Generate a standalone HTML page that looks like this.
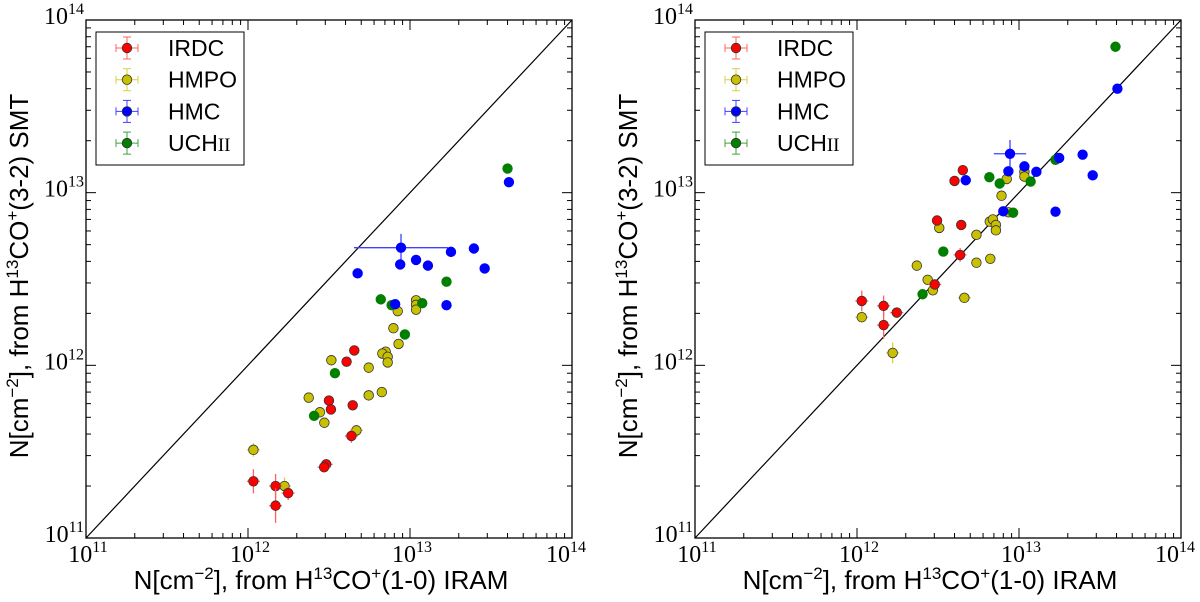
<!DOCTYPE html>
<html><head><meta charset="utf-8"><style>
body{margin:0;background:#fff;width:1200px;height:597px;overflow:hidden}
svg{font-family:"Liberation Sans",sans-serif}
</style></head><body>
<svg id="c" width="1200" height="597" xmlns="http://www.w3.org/2000/svg"></svg>
<script>
// ---- Left panel data (values in cm^-2) ----
const L_irdc_x=[4.53e12,4.06e12,3.16e12,3.25e12,4.43e12,4.35e12,3.04e12,2.95e12,1.08e12,1.48e12,1.77e12,1.48e12];
const L_irdc_y=[1.22e12,1.05e12,6.25e11,5.55e11,5.87e11,3.9e11,2.67e11,2.57e11,2.13e11,2.0e11,1.82e11,1.54e11];
const L_irdc_e=[0,0,0,0,0,0.04,0.03,0.03,0.07,0.07,0.04,0.1];
const L_hmpo_x=[1.09e13,1.09e13,1.09e13,8.4e12,7.9e12,8.5e12,7.08e12,6.75e12,7.28e12,7.28e12,3.27e12,5.56e12,5.56e12,6.7e12,2.37e12,2.78e12,2.96e12,4.67e12,1.08e12,1.68e12];
const L_hmpo_y=[2.38e12,2.24e12,2.1e12,2.06e12,1.64e12,1.33e12,1.2e12,1.17e12,1.12e12,1.04e12,1.07e12,9.7e11,6.7e11,7.0e11,6.5e11,5.35e11,4.65e11,4.2e11,3.24e11,2.0e11];
const L_hmpo_e=[0,0,0,0,0,0,0,0,0,0,0,0,0,0,0,0,0,0.03,0.04,0.05];
const L_hmc_x=[4.08e13,8.8e12,1.79e13,2.48e13,2.89e13,8.7e12,1.09e13,1.29e13,4.75e12,8.1e12,1.68e13];
const L_hmc_y=[1.15e13,4.8e12,4.54e12,4.75e12,3.64e12,3.84e12,4.08e12,3.78e12,3.41e12,2.26e12,2.23e12];
const L_hmc_e=[0,0.08,0,0,0,0,0,0,0,0,0];
const L_uch_x=[4.0e13,1.68e13,6.6e12,7.7e12,1.19e13,9.3e12,3.44e12,2.56e12];
const L_uch_y=[1.38e13,3.05e12,2.41e12,2.23e12,2.29e12,1.51e12,9.0e11,5.1e11];
// ---- Right panel data ----
const R_irdc_x=[4.5e12,4.0e12,3.12e12,4.4e12,4.33e12,3.02e12,1.07e12,1.46e12,1.76e12,1.46e12];
const R_irdc_y=[1.35e13,1.17e13,6.9e12,6.5e12,4.36e12,2.94e12,2.36e12,2.21e12,2.02e12,1.71e12];
const R_irdc_e=[0,0,0,0,0.04,0.03,0.06,0.06,0.03,0.08];
const R_hmpo_x=[3.22e12,8.4e12,1.08e13,1.08e13,7.8e12,8.6e12,6.6e12,6.9e12,7.2e12,7.2e12,5.46e12,2.34e12,2.73e12,2.94e12,5.46e12,6.65e12,4.6e12,1.07e12,1.66e12];
const R_hmpo_y=[6.25e12,1.2e13,1.32e13,1.24e13,9.6e12,7.7e12,6.8e12,7.0e12,6.5e12,6.05e12,5.7e12,3.78e12,3.13e12,2.72e12,3.93e12,4.14e12,2.46e12,1.9e12,1.18e12];
const R_hmpo_e=[0,0,0,0,0,0,0,0,0,0,0,0,0,0,0,0,0.03,0.03,0.06];
const R_hmc_x=[4.05e13,8.8e12,1.77e13,2.47e13,2.85e13,1.08e13,1.28e13,8.6e12,4.69e12,8.0e12,1.68e13];
const R_hmc_y=[4.0e13,1.68e13,1.59e13,1.66e13,1.26e13,1.42e13,1.32e13,1.33e13,1.18e13,7.8e12,7.76e12];
const R_hmc_e=[0,0.08,0,0,0,0,0,0,0,0,0];
const R_uch_x=[3.94e13,1.68e13,6.56e12,7.6e12,1.18e13,9.2e12,3.41e12,2.54e12];
const R_uch_y=[7.0e13,1.55e13,1.23e13,1.13e13,1.16e13,7.66e12,4.56e12,2.58e12];
const xTicks=[11,12,13,14];
const yTicks=[11,12,13,14];
const legendLabels=["IRDC","HMPO","HMC","UCH"];

const NS="http://www.w3.org/2000/svg";
const svg=document.getElementById('c');
function mk(tag,attrs,parent){const e=document.createElementNS(NS,tag);for(const k in attrs)e.setAttribute(k,attrs[k]);(parent||svg).appendChild(e);return e;}
const COL={irdc:"#ff0000",hmpo:"#c8c000",hmc:"#0000ff",uch:"#007f00"};
const ECOL={irdc:"#ff6060",hmpo:"#d8d040",hmc:"#4040ff",uch:"#40a040"};
const SERIF="Liberation Serif, serif";

function panel(px0,name,data,hmcXerr){
  const X0=px0,X1=px0+486,Y0=538,Y1=20;
  const sx=v=>X0+(Math.log10(v)-11)/3*(X1-X0);
  const sy=v=>Y0-(Math.log10(v)-11)/3*(Y0-Y1);
  const g=mk('g',{});
  
  
  for(let d=11;d<14;d++){for(let m=1;m<10;m++){const v=m*Math.pow(10,d);const len=m===1?10:5;
    const x=sx(v),y=sy(v);
    if(m!==1||d>11){
    mk('line',{x1:x,y1:Y0,x2:x,y2:Y0-len,stroke:'#000'},g);
    mk('line',{x1:x,y1:Y1,x2:x,y2:Y1+len,stroke:'#000'},g);
    mk('line',{x1:X0,y1:y,x2:X0+len,y2:y,stroke:'#000'},g);
    mk('line',{x1:X1,y1:y,x2:X1-len,y2:y,stroke:'#000'},g);}
  }}
  const dl=mk('line',{x1:sx(1e11),y1:sy(1e11),x2:sx(1e14),y2:sy(1e14),stroke:'#000','stroke-width':1.2},g);
  
  
  xTicks.forEach(t=>{const tx=mk('text',{x:sx(Math.pow(10,t))+(t===14?-6:2),y:Y0+24,'text-anchor':'middle','font-family':SERIF,'font-size':24},g);
    tx.innerHTML='10<tspan dy="-10" font-size="16">'+t+'</tspan>';
    
    });
  yTicks.forEach(t=>{const tx=mk('text',{x:X0-2,y:sy(Math.pow(10,t))+4,'text-anchor':'end','font-family':SERIF,'font-size':24},g);
    tx.innerHTML='10<tspan dy="-10" font-size="16">'+t+'</tspan>';
    
    });
  data.forEach(s=>{
    const sg=mk('g',{},g);
    
    
    s.x.forEach((xv,i)=>{
      const e=(s.e&&s.e[i])||0;
      const cx=sx(xv),cy=sy(s.y[i]);
      if(e>0){
        const xe=s.k==='hmc'?hmcXerr:0.04;
        mk('line',{x1:cx,y1:sy(s.y[i]*Math.pow(10,e)),x2:cx,y2:sy(s.y[i]/Math.pow(10,e)),stroke:ECOL[s.k],'stroke-width':1.3},sg);
        mk('line',{x1:sx(xv/Math.pow(10,xe)),y1:cy,x2:sx(xv*Math.pow(10,xe)),y2:cy,stroke:ECOL[s.k],'stroke-width':1.3},sg);
      }
      const c=mk('circle',{cx:cx,cy:cy,r:4.8,fill:COL[s.k],stroke:s.k==='hmpo'||s.k==='irdc'?'#333':COL[s.k],'stroke-width':0.8},sg);
      
      
    });
  });
  mk('rect',{x:X0,y:Y1,width:X1-X0,height:Y0-Y1,fill:'none',stroke:'#000','stroke-width':1.3},g);
  const lg=mk('g',{},g);
  
  
  mk('rect',{x:X0+10,y:32,width:148,height:133,fill:'#fff',stroke:'#000','stroke-width':1},lg);
  ['irdc','hmpo','hmc','uch'].forEach((k,i)=>{
    const y=48+i*31.7,x=X0+41;
    const eg=mk('g',{},lg);
    
    
    mk('line',{x1:x-11,y1:y,x2:x+11,y2:y,stroke:ECOL[k]},eg);
    mk('line',{x1:x,y1:y-11,x2:x,y2:y+11,stroke:ECOL[k]},eg);
    mk('line',{x1:x-11,y1:y-4,x2:x-11,y2:y+4,stroke:ECOL[k]},eg);
    mk('line',{x1:x+11,y1:y-4,x2:x+11,y2:y+4,stroke:ECOL[k]},eg);
    mk('line',{x1:x-4,y1:y-11,x2:x+4,y2:y-11,stroke:ECOL[k]},eg);
    mk('line',{x1:x-4,y1:y+11,x2:x+4,y2:y+11,stroke:ECOL[k]},eg);
    mk('circle',{cx:x,cy:y,r:4.8,fill:COL[k],stroke:'#333','stroke-width':0.8},eg);
    const t=mk('text',{x:X0+82,y:y+8,'font-size':23},eg);
    t.textContent=legendLabels[i];
    if(k==='uch'){const ts=mk('tspan',{'font-family':SERIF,'font-size':19},t);ts.textContent='II';}
  });
  const xt=mk('text',{x:(X0+X1)/2-8,y:589,'text-anchor':'middle','font-size':26},g);
  xt.innerHTML='N[cm<tspan dy="-10" font-size="17">−2</tspan><tspan dy="10">], from H</tspan><tspan dy="-10" font-size="17">13</tspan><tspan dy="10">CO</tspan><tspan dy="-10" font-size="17">+</tspan><tspan dy="10">(1-0) IRAM</tspan>';
  
  
  const yt=mk('text',{x:0,y:0,'text-anchor':'middle','font-size':26,transform:'translate('+(X0-58)+',276) rotate(-90)'},g);
  yt.innerHTML='N[cm<tspan dy="-10" font-size="17">−2</tspan><tspan dy="10">], from H</tspan><tspan dy="-10" font-size="17">13</tspan><tspan dy="10">CO</tspan><tspan dy="-10" font-size="17">+</tspan><tspan dy="10">(3-2) SMT</tspan>';
  
  
}
panel(86,'left-panel',[
  {k:'hmpo',x:L_hmpo_x,y:L_hmpo_y,e:L_hmpo_e},
  {k:'uch',x:L_uch_x,y:L_uch_y},
  {k:'hmc',x:L_hmc_x,y:L_hmc_y,e:L_hmc_e},
  {k:'irdc',x:L_irdc_x,y:L_irdc_y,e:L_irdc_e}],0.29);
panel(695,'right-panel',[
  {k:'hmpo',x:R_hmpo_x,y:R_hmpo_y,e:R_hmpo_e},
  {k:'uch',x:R_uch_x,y:R_uch_y},
  {k:'hmc',x:R_hmc_x,y:R_hmc_y,e:R_hmc_e},
  {k:'irdc',x:R_irdc_x,y:R_irdc_y,e:R_irdc_e}],0.1);
</script>
</body></html>
